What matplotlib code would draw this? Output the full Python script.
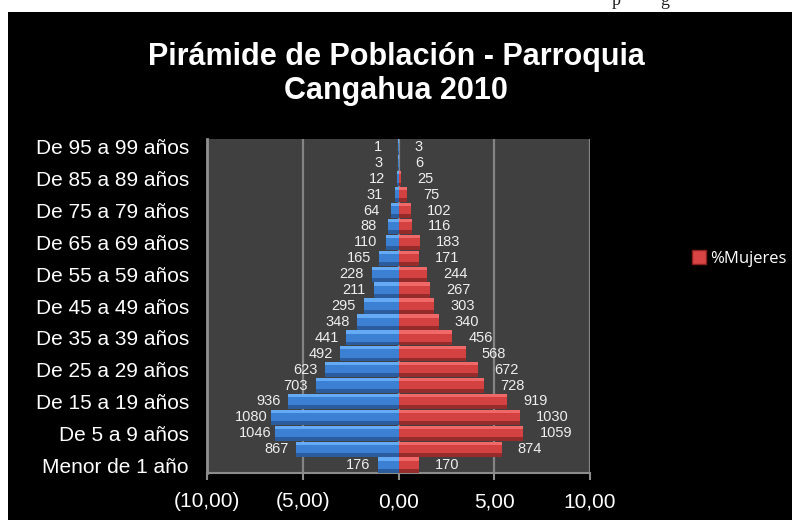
import matplotlib
matplotlib.use("Agg")
import matplotlib.pyplot as plt
from matplotlib.patches import Rectangle
from matplotlib.lines import Line2D
from matplotlib.ticker import FuncFormatter
import numpy as np

plt.rcParams['font.family'] = 'Liberation Sans'

# age groups, bottom to top
grupos = ["Menor de 1 año", "De 1 a 4 años", "De 5 a 9 años", "De 10 a 14 años",
          "De 15 a 19 años", "De 20 a 24 años", "De 25 a 29 años", "De 30 a 34 años",
          "De 35 a 39 años", "De 40 a 44 años", "De 45 a 49 años", "De 50 a 54 años",
          "De 55 a 59 años", "De 60 a 64 años", "De 65 a 69 años", "De 70 a 74 años",
          "De 75 a 79 años", "De 80 a 84 años", "De 85 a 89 años", "De 90 a 94 años",
          "De 95 a 99 años"]
hombres = [176, 867, 1046, 1080, 936, 703, 623, 492, 441, 348, 295,
           211, 228, 165, 110, 88, 64, 31, 12, 3, 1]
mujeres = [170, 874, 1059, 1030, 919, 728, 672, 568, 456, 340, 303,
           267, 244, 171, 183, 116, 102, 75, 25, 6, 3]

total = sum(hombres) + sum(mujeres)
pct_h = -np.array(hombres) / total * 100
pct_m = np.array(mujeres) / total * 100
y = np.arange(len(grupos))

fig = plt.figure(figsize=(7.92, 5.2), dpi=100, facecolor='white')
fig.add_artist(Rectangle((8 / 792, 0), 1, 508 / 520, transform=fig.transFigure,
                         facecolor='black', edgecolor='none', zorder=0))
# leftover bits of the document text above the chart
fig.text(612 / 792, 1 - 5 / 520, 'p', family='Liberation Serif', fontsize=13,
         color='#222222', va='baseline', zorder=-1)
fig.text(660 / 792, 1 - 5 / 520, 'g', family='Liberation Serif', fontsize=13,
         color='#222222', va='baseline', zorder=-1)

ax = fig.add_axes([207 / 792, 47 / 520, 383 / 792, 334 / 520])
ax.set_facecolor('#404040')
ax.set_axisbelow(True)

h = 0.96
styles = [(pct_h, '#2a5c9e', '#3b80d3', '#64aaf4'),
          (pct_m, '#962b2b', '#d34141', '#f06868')]
for vals, dark, main, light in styles:
    ax.barh(y, vals, height=h, color=dark, zorder=3)
    ax.barh(y + 0.125 * h, vals, height=0.75 * h, color=main, zorder=3)
    ax.barh(y + 0.39 * h, vals, height=0.22 * h, color=light, zorder=3)

for yi, v, n in zip(y, pct_h, hombres):
    ax.annotate(str(n), (v, yi), xytext=(-20, 0), textcoords='offset pixels',
                ha='center', va='center', color='#eeeeee', fontsize=10.5, zorder=5)
for yi, v, n in zip(y, pct_m, mujeres):
    ax.annotate(str(n), (v, yi), xytext=(16, 0), textcoords='offset pixels',
                ha='left', va='center', color='#eeeeee', fontsize=10.5, zorder=5)

ax.set_xlim(-10, 10)
ax.set_ylim(-0.5, len(grupos) - 0.5)
ax.set_xticks([-10, -5, 0, 5, 10])
ax.xaxis.set_major_formatter(FuncFormatter(
    lambda v, p: ('(%.2f)' % abs(v) if v < 0 else '%.2f' % v).replace('.', ',')))
ax.set_yticks(y[::2])
ax.set_yticklabels(grupos[::2])
ax.grid(axis='x', color='#848484', lw=1.6)
ax.tick_params(axis='x', colors='#8c8c8c', labelcolor='white', labelsize=15,
               length=5, width=1.5, pad=9)
ax.tick_params(axis='y', labelcolor='white', labelsize=15, length=0, pad=13)
for s in ['top', 'right']:
    ax.spines[s].set_visible(False)
ax.spines['left'].set_color('#909090')
ax.spines['left'].set_linewidth(2)
ax.spines['bottom'].set_color('#8c8c8c')
ax.spines['bottom'].set_linewidth(1.5)

fig.text(396 / 792, 1 - 74 / 520, 'Pirámide de Población - Parroquia\nCangahua 2010',
         ha='center', va='center', color='white', fontsize=22, fontweight='bold',
         linespacing=1.15)

handle = Line2D([], [], marker='s', ls='', markersize=10,
                markerfacecolor='#d94545', markeredgecolor='#8b2020')
fig.legend([handle], ['%Mujeres'], loc='center left',
           bbox_to_anchor=(692 / 792, 1 - 259 / 520), frameon=False,
           handlelength=0.8, handletextpad=0.3, borderaxespad=0, borderpad=0,
           prop={'family': 'Open Sans', 'size': 12}, labelcolor='white')

fig.savefig('out.png', dpi=100, facecolor=fig.get_facecolor())
